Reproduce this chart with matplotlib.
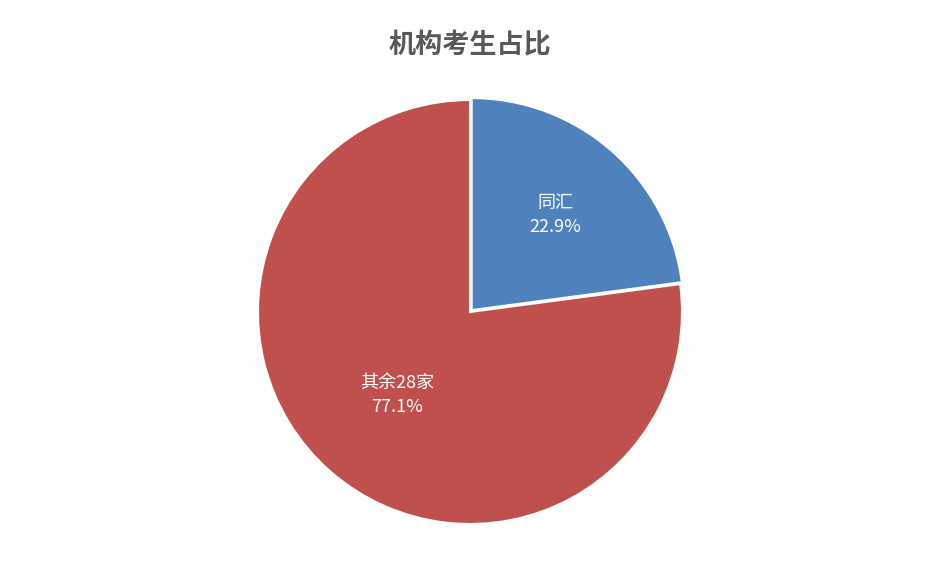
import numpy as np
import matplotlib
matplotlib.use("Agg")
import matplotlib.pyplot as plt

plt.rcParams['font.family'] = ['Noto Sans CJK SC', 'DejaVu Sans']

labels = ["同汇", "其余28家"]
shares = [22.9, 77.1]
colors = ["#4F81BD", "#C0504D"]
label_radius = [0.61, 0.52]

fig = plt.figure(figsize=(9.28, 5.86), dpi=100)
# pie centre ~ (470, 312) px, radius ~ 212 px
cx, cy, r = 470 / 928, 1 - 312 / 586, 212
ax = fig.add_axes([cx - r / 928, cy - r / 586, 2 * r / 928, 2 * r / 586])

wedges, _ = ax.pie(shares, colors=colors, startangle=90, counterclock=False,
                   explode=[0.012, 0], wedgeprops=dict(edgecolor="white", linewidth=1.5))
ax.set_xlim(-1, 1)
ax.set_ylim(-1, 1)
ax.set_aspect("equal")

for w, lab, v, rr in zip(wedges, labels, shares, label_radius):
    ang = np.deg2rad((w.theta1 + w.theta2) / 2)
    x, y = rr * np.cos(ang), rr * np.sin(ang)
    ax.text(x, y, f"{lab}\n{v:.1f}%", ha="center", va="center", color="white",
            fontsize=13, linespacing=1.45)

fig.text(cx, 1 - 45 / 586, "机构考生占比", ha="center", va="center",
         fontsize=19.5, fontweight="bold", color="#595959")

fig.savefig("out.png", dpi=100)
